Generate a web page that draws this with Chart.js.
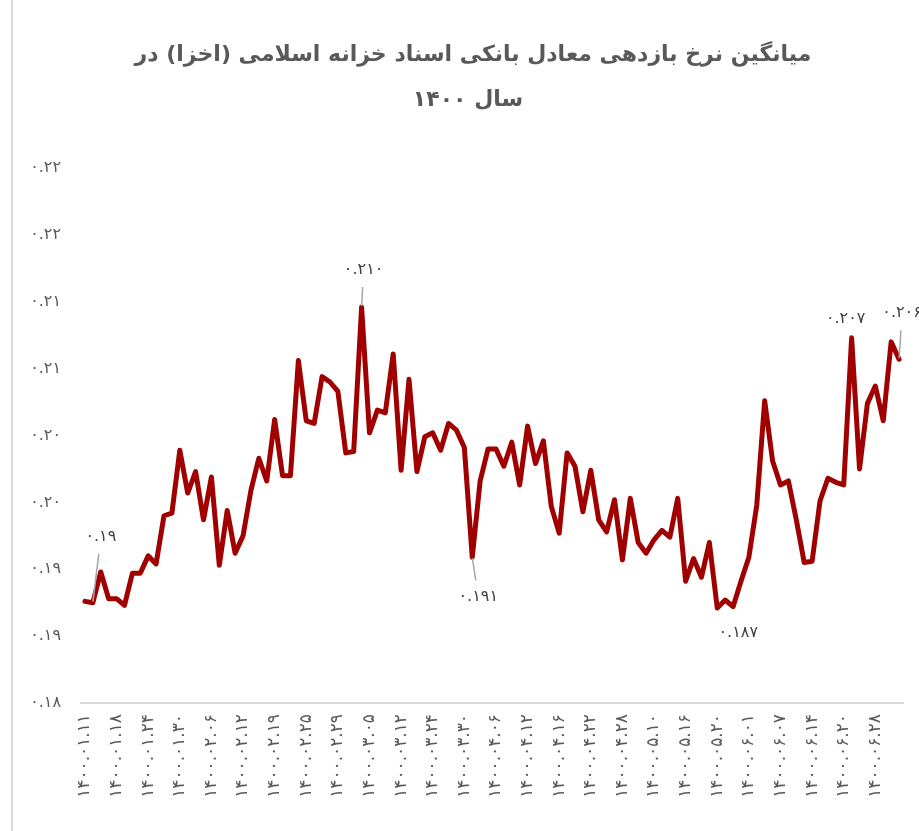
<!DOCTYPE html>
<html>
<head>
<meta charset="utf-8">
<script src="https://cdn.jsdelivr.net/npm/chart.js@4"></script>
<style>
  html, body { margin: 0; padding: 0; background: #fff; }
</style>
</head>
<body>
<canvas id="myChart" width="919" height="831"></canvas>
<script>
// tick labels shown on the x axis (every 4th trading day)
var tickLabels = [
    '۱۴۰۰.۰۱.۱۱', '۱۴۰۰.۰۱.۱۸', '۱۴۰۰.۰۱.۲۴', '۱۴۰۰.۰۱.۳۰', '۱۴۰۰.۰۲.۰۶',
    '۱۴۰۰.۰۲.۱۲', '۱۴۰۰.۰۲.۱۹', '۱۴۰۰.۰۲.۲۵', '۱۴۰۰.۰۲.۲۹', '۱۴۰۰.۰۳.۰۵',
    '۱۴۰۰.۰۳.۱۲', '۱۴۰۰.۰۳.۲۴', '۱۴۰۰.۰۳.۳۰', '۱۴۰۰.۰۴.۰۶', '۱۴۰۰.۰۴.۱۲',
    '۱۴۰۰.۰۴.۱۶', '۱۴۰۰.۰۴.۲۲', '۱۴۰۰.۰۴.۲۸', '۱۴۰۰.۰۵.۱۰', '۱۴۰۰.۰۵.۱۶',
    '۱۴۰۰.۰۵.۲۰', '۱۴۰۰.۰۶.۰۱', '۱۴۰۰.۰۶.۰۷', '۱۴۰۰.۰۶.۱۴', '۱۴۰۰.۰۶.۲۰',
    '۱۴۰۰.۰۶.۲۸'];

// average yield, one value per trading day
var yields = [
    0.1876, 0.1875, 0.1898, 0.1878, 0.1878, 0.1873, 0.1897, 0.1897, 0.1910, 0.1904,
    0.1940, 0.1942, 0.1989, 0.1957, 0.1973, 0.1937, 0.1969, 0.1903, 0.1944, 0.1912,
    0.1925, 0.1959, 0.1983, 0.1966, 0.2012, 0.1970, 0.1970, 0.2056, 0.2011, 0.2009,
    0.2044, 0.2040, 0.2033, 0.1987, 0.1988, 0.2096, 0.2002, 0.2019, 0.2017, 0.2061,
    0.1974, 0.2042, 0.1973, 0.1999, 0.2002, 0.1989, 0.2009, 0.2004, 0.1991, 0.1909,
    0.1966, 0.1990, 0.1990, 0.1977, 0.1995, 0.1963, 0.2007, 0.1979, 0.1996, 0.1947,
    0.1927, 0.1987, 0.1977, 0.1943, 0.1974, 0.1937, 0.1928, 0.1952, 0.1907, 0.1953,
    0.1920, 0.1912, 0.1922, 0.1929, 0.1924, 0.1953, 0.1891, 0.1908, 0.1894, 0.1920,
    0.1871, 0.1877, 0.1872, 0.1891, 0.1909, 0.1948, 0.2026, 0.1981, 0.1963, 0.1966,
    0.1937, 0.1905, 0.1906, 0.1951, 0.1968, 0.1965, 0.1963, 0.2073, 0.1975, 0.2024,
    0.2037, 0.2011, 0.2070, 0.2057];

var titleLines = ['میانگین نرخ بازدهی معادل بانکی اسناد خزانه اسلامی (اخزا) در', 'سال ۱۴۰۰'];

// points that carry a value label
var labelIndex = [1, 35, 49, 80, 97, 103];
var labelDecimals = [2, 3, 3, 3, 3, 3];

// label placement relative to its point (style only)
var labelOffsets = [[8, -66], [2, -37], [6, 40], [21, 25], [-6, -19], [3, -46]];
var labelLeader = [true, true, true, false, false, true];

var categories = yields.map((v, i) => i % 4 === 0 ? tickLabels[i / 4] : '');

function fa(s) {
    return String(s).replace(/\d/g, d => '۰۱۲۳۴۵۶۷۸۹'[d]);
}

var extras = {
    id: 'extras',
    beforeDraw(chart) {
        var ctx = chart.ctx;
        ctx.save();
        // frame edge on the left
        ctx.fillStyle = '#d9d9d9';
        ctx.fillRect(11, 0, 2, chart.height);
        // title
        ctx.direction = 'rtl';
        ctx.font = 'bold 22px "DejaVu Sans"';
        ctx.fillStyle = '#595959';
        ctx.textAlign = 'center';
        ctx.textBaseline = 'middle';
        ctx.fillText(titleLines[0], 473, 55);
        ctx.fillText(titleLines[1], 468, 100);
        ctx.restore();
    },
    afterDatasetsDraw(chart) {
        var ctx = chart.ctx;
        var meta = chart.getDatasetMeta(0);
        ctx.save();
        ctx.font = '16px "DejaVu Sans"';
        ctx.textAlign = 'center';
        ctx.textBaseline = 'middle';
        labelIndex.forEach((idx, k) => {
            var p = meta.data[idx];
            var dx = labelOffsets[k][0], dy = labelOffsets[k][1];
            if (labelLeader[k]) {
                var len = Math.sqrt(dx * dx + dy * dy);
                var ux = dx / len, uy = dy / len;
                ctx.strokeStyle = '#a6a6a6';
                ctx.lineWidth = 1.5;
                ctx.beginPath();
                ctx.moveTo(p.x + ux * 1, p.y + uy * 1);
                ctx.lineTo(p.x + ux * (len - 17), p.y + uy * (len - 17));
                ctx.stroke();
            }
            ctx.fillStyle = '#404040';
            ctx.fillText(fa(yields[idx].toFixed(labelDecimals[k])), p.x + dx, p.y + dy);
        });
        ctx.restore();
    }
};

var ctx = document.getElementById('myChart').getContext('2d');

var chart = new Chart(ctx, {
    type: 'line',
    data: {
        labels: categories,
        datasets: [{
            data: yields,
            borderColor: '#a00000',
            backgroundColor: '#a00000',
            borderWidth: 5,
            borderJoinStyle: 'round',
            borderCapStyle: 'round',
            tension: 0,
            fill: false,
            pointRadius: 0
        }]
    },
    options: {
        responsive: false,
        animation: false,
        layout: { padding: { left: 12, right: 16, top: 168, bottom: 0 } },
        plugins: {
            legend: { display: false },
            tooltip: { enabled: false },
            title: { display: false }
        },
        scales: {
            x: {
                offset: true,
                grid: { display: false, drawTicks: false },
                border: { display: true, color: '#d9d9d9', width: 2 },
                ticks: {
                    autoSkip: false,
                    maxRotation: 90,
                    minRotation: 90,
                    padding: 11,
                    color: '#595959',
                    font: { family: 'DejaVu Sans', size: 17 }
                },
                afterFit: (scale) => {
                    scale.height = 128;
                    scale.paddingLeft = 0;
                    scale.paddingRight = 0;
                }
            },
            y: {
                min: 0.18,
                max: 0.22,
                grid: { display: false, drawTicks: false },
                border: { display: false },
                ticks: {
                    stepSize: 0.005,
                    padding: 20,
                    color: '#595959',
                    font: { family: 'DejaVu Sans', size: 16 },
                    callback: (v) => fa((Math.round(v * 100 + 1e-6) / 100).toFixed(2))
                },
                afterFit: (scale) => { scale.width = 69; }
            }
        }
    },
    plugins: [extras]
});
</script>
</body>
</html>
